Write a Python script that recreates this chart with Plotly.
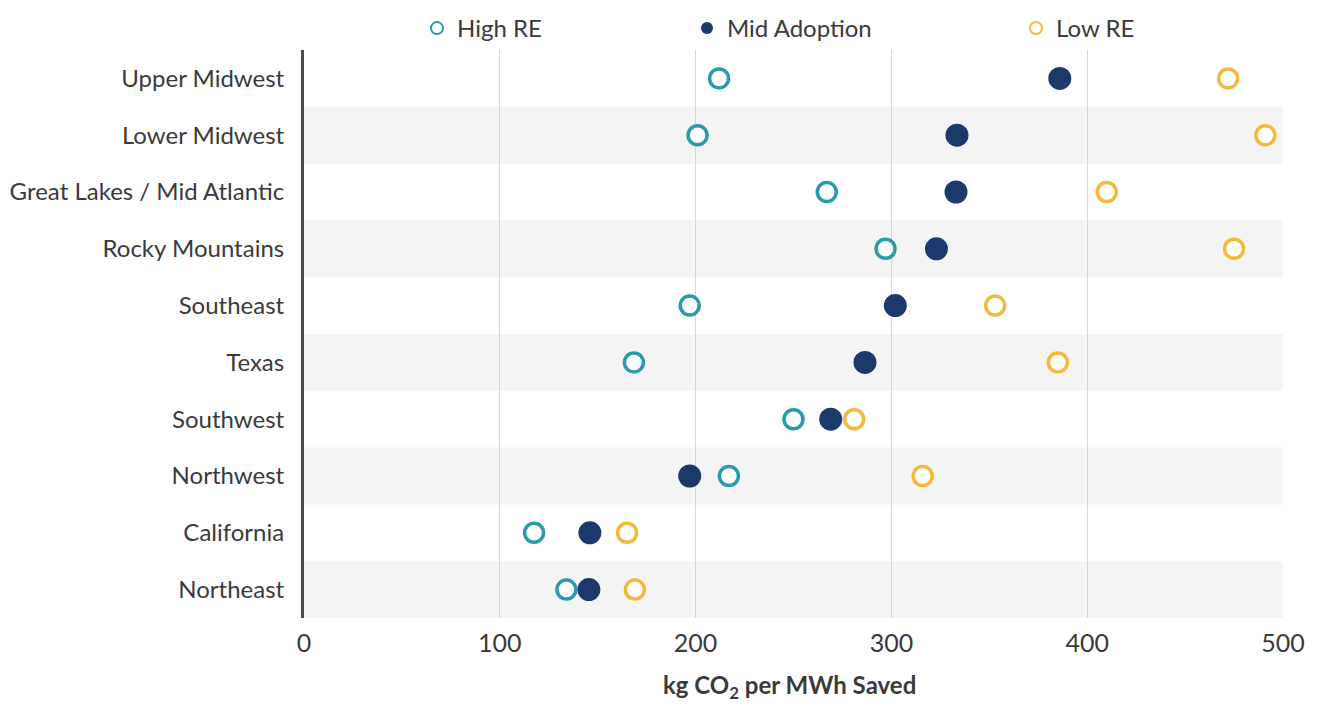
import plotly.graph_objects as go

regions = ["Upper Midwest", "Lower Midwest", "Great Lakes / Mid Atlantic", "Rocky Mountains",
           "Southeast", "Texas", "Southwest", "Northwest", "California", "Northeast"]
high_re = [212, 201, 267, 297, 197, 168.5, 250, 217, 117.5, 134]
mid_adoption = [386, 333.5, 333, 323, 302, 286.5, 269, 197, 146, 145.5]
low_re = [472, 491, 410, 475, 353, 385, 281, 316, 165, 169]
x_ticks = [0, 100, 200, 300, 400, 500]
x_title = "<b>kg CO<sub>2</sub> per MWh Saved</b>"

TEAL = "#2a9aad"
NAVY = "#1b3a6b"
GOLD = "#f2b93b"
TEXT = "#3a3a3a"
FONT = "Lato"

fig = go.Figure()

# alternating row bands
for i, r in enumerate(regions):
    if i % 2 == 1:
        fig.add_shape(type="rect", xref="x", yref="y", x0=0, x1=500,
                      y0=i - 0.5, y1=i + 0.5, fillcolor="#f4f4f4",
                      line_width=0, layer="below")

fig.add_trace(go.Scatter(
    x=high_re, y=list(range(len(regions))), mode="markers", name="High RE",
    marker=dict(size=19, color="white", line=dict(color=TEAL, width=3.5)),
    legend="legend", showlegend=True))
fig.add_trace(go.Scatter(
    x=mid_adoption, y=list(range(len(regions))), mode="markers", name="Mid Adoption",
    marker=dict(size=23, color=NAVY, line=dict(width=0)),
    legend="legend2", showlegend=True))
fig.add_trace(go.Scatter(
    x=low_re, y=list(range(len(regions))), mode="markers", name="Low RE",
    marker=dict(size=19, color="white", line=dict(color=GOLD, width=3.5)),
    legend="legend3", showlegend=True))

PW = 979.0
PH = 568.0
leg_common = dict(orientation="h", yanchor="top", y=1.0 + 44 / PH,
                  xanchor="left", font=dict(family=FONT, size=24, color=TEXT),
                  bgcolor="rgba(0,0,0,0)", itemsizing="constant", borderwidth=0)

fig.add_annotation(text=x_title, xref="paper", yref="paper",
                   x=0.5 - 4 / PW, y=-68 / PH, xanchor="center", yanchor="middle",
                   showarrow=False, font=dict(family=FONT, size=24, color=TEXT))

fig.update_layout(
    width=1302, height=695,
    showlegend=True,
    margin=dict(l=296, r=27, t=42, b=85, autoexpand=False),
    plot_bgcolor="white", paper_bgcolor="white",
    font=dict(family=FONT, size=24, color=TEXT),
    legend=dict(**leg_common, x=(417 - 304) / PW),
    legend2=dict(**leg_common, x=(687 - 304) / PW),
    legend3=dict(**leg_common, x=(1016 - 304) / PW),
    xaxis=dict(range=[0, 500], tickvals=x_ticks, showgrid=True,
               gridcolor="#d6d6d6", gridwidth=1.2, zeroline=False,
               showline=False, ticks="", ticklen=0, automargin=False,
               tickfont=dict(family=FONT, size=25, color=TEXT)),
    yaxis=dict(range=[len(regions) - 0.5, -0.5], tickvals=list(range(len(regions))),
               ticktext=regions, showgrid=False, zeroline=False,
               showline=True, linecolor="#4a4a4a", linewidth=3,
               ticks="", ticklen=0, automargin=False,
               tickfont=dict(family=FONT, size=24, color=TEXT)),
)
fig.update_yaxes(ticklabelstandoff=12)
fig.update_xaxes(ticklabelstandoff=8)

fig.write_html("out.html")
